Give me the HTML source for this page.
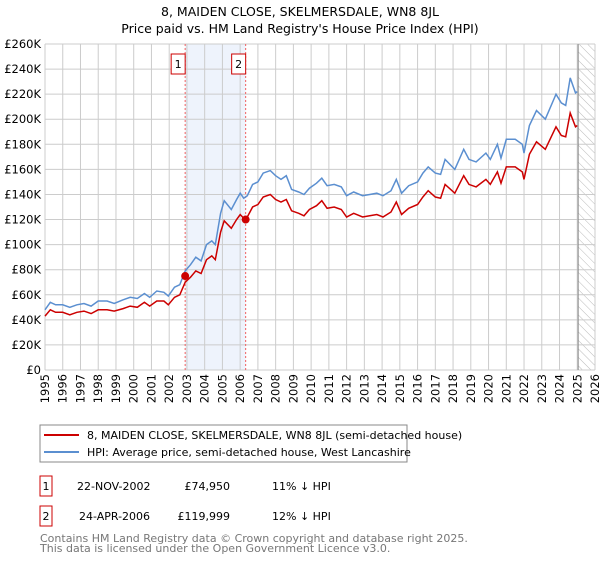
<!DOCTYPE html>
<html><head><meta charset="utf-8"><style>
body{margin:0;background:#fff;font-family:"Liberation Sans","DejaVu Sans",sans-serif;}
svg text{font-family:"DejaVu Sans","Liberation Sans",sans-serif;}
</style></head><body>
<svg id="c" width="600" height="560" xmlns="http://www.w3.org/2000/svg">
<defs><pattern id="hatch" width="6" height="6" patternUnits="userSpaceOnUse" patternTransform="rotate(-45)"><line x1="0" y1="0" x2="0" y2="6" stroke="#bbb" stroke-width="1"/></pattern></defs>
<text x="300" y="16" text-anchor="middle" font-size="12.5">8, MAIDEN CLOSE, SKELMERSDALE, WN8 8JL</text>
<text x="300" y="33" text-anchor="middle" font-size="12.5">Price paid vs. HM Land Registry's House Price Index (HPI)</text>
<g id="grid"></g><g id="plot"></g><g id="axes"></g>
<g>
<rect x="40" y="425" width="367" height="37" fill="#fff" stroke="#888"/>
<line x1="44" y1="435" x2="79" y2="435" stroke="#cc0000" stroke-width="2"/>
<text x="87" y="439" font-size="11">8, MAIDEN CLOSE, SKELMERSDALE, WN8 8JL (semi-detached house)</text>
<line x1="44" y1="452" x2="79" y2="452" stroke="#5b8fd0" stroke-width="2"/>
<text x="87" y="456" font-size="11">HPI: Average price, semi-detached house, West Lancashire</text>
</g>
<g font-size="11">
<rect x="40" y="476" width="12" height="20" fill="#fff" stroke="#cc0000"/><text x="46" y="490" text-anchor="middle">1</text>
<text x="77" y="490">22-NOV-2002</text><text x="230" y="490" text-anchor="end">£74,950</text><text x="272" y="490">11% ↓ HPI</text>
<rect x="40" y="506" width="12" height="20" fill="#fff" stroke="#cc0000"/><text x="46" y="520" text-anchor="middle">2</text>
<text x="79" y="520">24-APR-2006</text><text x="230" y="520" text-anchor="end">£119,999</text><text x="272" y="520">12% ↓ HPI</text>
</g>
<text x="40" y="542" font-size="11" fill="#777">Contains HM Land Registry data © Crown copyright and database right 2025.</text>
<text x="40" y="552" font-size="11" fill="#777">This data is licensed under the Open Government Licence v3.0.</text>
</svg>
<script>
const years=[1995.0,1995.3,1995.6,1996.0,1996.4,1996.8,1997.2,1997.6,1998.0,1998.5,1998.9,1999.4,1999.8,2000.2,2000.6,2000.9,2001.3,2001.7,2001.95,2002.3,2002.6,2002.9,2003.2,2003.5,2003.8,2004.1,2004.4,2004.6,2004.9,2005.1,2005.5,2005.8,2006.0,2006.2,2006.4,2006.7,2007.0,2007.3,2007.7,2008.0,2008.3,2008.6,2008.9,2009.3,2009.6,2009.9,2010.3,2010.6,2010.9,2011.3,2011.7,2012.0,2012.4,2012.9,2013.3,2013.7,2014.05,2014.5,2014.8,2015.1,2015.5,2016.0,2016.3,2016.6,2017.0,2017.3,2017.55,2018.1,2018.6,2018.9,2019.3,2019.85,2020.1,2020.5,2020.7,2021.0,2021.5,2021.9,2022.0,2022.3,2022.7,2023.2,2023.8,2024.1,2024.35,2024.6,2024.9,2025.0];
const hpi=[48,54,52,52,50,52,53,51,55,55,53,56,58,57,61,58,63,62,59,66,68,79,84,90,87,100,103,100,125,135,128,136,141,137,139,148,150,157,159,155,152,155,144,142,140,145,149,153,147,148,146,139,142,139,140,141,139,143,152,141,147,150,157,162,157,156,168,160,176,168,166,173,168,180,169,184,184,180,173,195,207,200,220,213,211,233,221,222];
const price=[43,48,46,46,44,46,47,45,48,48,47,49,51,50,54,51,55,55,52,58,60,70,74,79,77,88,91,88,110,119,113,120,124,121,122,130,132,138,140,136,134,136,127,125,123,128,131,135,129,130,128,122,125,122,123,124,122,126,134,124,129,132,138,143,138,137,148,141,155,148,146,152,148,158,149,162,162,158,152,172,182,176,194,187,186,205,194,195];
const saleYears=[2002.9,2006.31];
const saleValues=[74.95,119.999];
const saleLabels=["1","2"];
const yTicks=[0,20,40,60,80,100,120,140,160,180,200,220,240,260];
const xTicks=[];for(let y=1995;y<=2026;y++)xTicks.push(y);
const X0=45,X1=595,Y0=370,Y1=44;
const xs=y=>X0+(y-1995)/31*(X1-X0);
const ys=v=>Y0-v/260*(Y0-Y1);
const NS="http://www.w3.org/2000/svg";
function mk(p,t,a){const e=document.createElementNS(NS,t);for(const k in a)e.setAttribute(k,a[k]);p.appendChild(e);return e;}
const grid=document.getElementById('grid'),plot=document.getElementById('plot'),axes=document.getElementById('axes');
// shaded region and hatch
let sh=mk(grid,'rect',{x:xs(saleYears[0]),y:Y1,width:xs(saleYears[1])-xs(saleYears[0]),height:Y0-Y1,fill:'#eef3fc'});


let hz=mk(grid,'rect',{x:xs(2025.05),y:Y1,width:X1-xs(2025.05),height:Y0-Y1,fill:'url(#hatch)'});


yTicks.forEach(v=>{
 const l=mk(grid,'line',{x1:X0,x2:X1,y1:ys(v),y2:ys(v),stroke:'#ccc','stroke-width':1});
 
 
 const t=mk(axes,'text',{x:X0-4,y:ys(v)+4,'text-anchor':'end','font-size':11.5});
 t.textContent=v===0?'£0':'£'+v+'K';
 
 
});
xTicks.forEach(y=>{
 const l=mk(grid,'line',{y1:Y1,y2:Y0,x1:xs(y),x2:xs(y),stroke:'#ccc','stroke-width':1});
 
 
 const t=mk(axes,'text',{x:0,y:0,'text-anchor':'end','font-size':11.5,transform:`translate(${xs(y)+4},374) rotate(-90)`});
 t.textContent=y;
 
 
});
let vl=mk(grid,'line',{x1:xs(2025.05),x2:xs(2025.05),y1:Y1,y2:Y0,stroke:'#888','stroke-width':1});


saleYears.forEach((y,i)=>{
 const l=mk(plot,'line',{x1:xs(y),x2:xs(y),y1:Y1,y2:Y0,stroke:'#f06060','stroke-width':1,'stroke-dasharray':'2,2'});
 
 
 const r=mk(plot,'rect',{x:xs(y)-14,y:54,width:14,height:20,fill:'#fff',stroke:'#cc0000'});
 
 
 const t=mk(plot,'text',{x:xs(y)-7,y:68,'text-anchor':'middle','font-size':11});
 t.textContent=saleLabels[i];
 
 
});
const pts=a=>a.map((v,i)=>xs(years[i]).toFixed(1)+','+ys(v).toFixed(1)).join(' ');
let hl=mk(plot,'polyline',{points:pts(hpi),fill:'none',stroke:'#5b8fd0','stroke-width':1.5});


let pl=mk(plot,'polyline',{points:pts(price),fill:'none',stroke:'#cc0000','stroke-width':1.5});


saleYears.forEach((y,i)=>{
 const c=mk(plot,'circle',{cx:xs(y),cy:ys(saleValues[i]),r:4,fill:'#cc0000'});
 
 
});
</script>
</body></html>
